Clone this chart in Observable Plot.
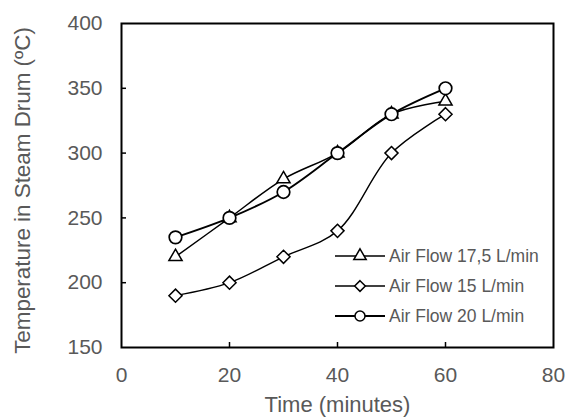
<!DOCTYPE html>
<html>
<head>
<meta charset="utf-8">
<script src="https://cdn.jsdelivr.net/npm/d3@7"></script>
<script src="https://cdn.jsdelivr.net/npm/@observablehq/plot@0.6"></script>
<style>
  html, body { margin: 0; padding: 0; background: #fff; }
  #chart { width: 566px; height: 418px; }
</style>
</head>
<body>
<div id="chart"></div>
<script>
// ---- data ----
const time = [10, 20, 30, 40, 50, 60];
const flow175 = [220, 250, 280, 300, 330, 340];
const flow15 = [190, 200, 220, 240, 300, 330];
const flow20 = [235, 250, 270, 300, 330, 350];
const seriesNames = ["Air Flow 17,5 L/min", "Air Flow 15 L/min", "Air Flow 20 L/min"];
const xTicks = [0, 20, 40, 60, 80];
const yTicks = [150, 200, 250, 300, 350, 400];
const xInnerTicks = [20, 40, 60];
const yInnerTicks = [200, 250, 300, 350];
const xTitle = ["Time (minutes)"];
const yTitle = ["Temperature in Steam Drum (ºC)"];

const toRows = (vals) => time.map((t, i) => ({t, v: vals[i]}));
const s175 = toRows(flow175);
const s15 = toRows(flow15);
const s20 = toRows(flow20);

const W = 566, H = 418;
const mL = 121, mR = 13, mT = 23, mB = 71;
const pw = W - mL - mR, ph = H - mT - mB;
const grey = "#595959";
const font = "Liberation Sans, Arial, sans-serif";

const legendItems = [
  {name: seriesNames[0], symbol: d3.symbolTriangle, r: 4.6, sw: 1.4},
  {name: seriesNames[1], symbol: d3.symbolDiamond2, r: 4.8, sw: 1.4},
  {name: seriesNames[2], symbol: d3.symbolCircle, r: 5, sw: 1.9}
];

function legendMark(index, scales, values, dims) {
  const g = d3.create("svg:g")
    .attr("transform", `translate(${dims.marginLeft + 214},${dims.marginTop + 233})`);
  legendItems.forEach((it, i) => {
    const row = g.append("g").attr("transform", `translate(0,${i * 30})`);
    row.append("line").attr("x1", 0).attr("x2", 50).attr("y1", 0).attr("y2", 0)
      .attr("stroke", "black").attr("stroke-width", it.sw);
    row.append("path")
      .attr("d", d3.symbol(it.symbol, Math.PI * it.r * it.r)())
      .attr("transform", "translate(25,0)")
      .attr("fill", "white").attr("stroke", "black").attr("stroke-width", 1.5);
    row.append("text").attr("x", 54).attr("y", 0).attr("dy", "0.35em")
      .attr("text-anchor", "start")
      .attr("fill", grey).attr("font-family", font).attr("font-size", 17.5)
      .text(it.name);
  });
  return g.node();
}

const plot = Plot.plot({
  width: W, height: H,
  marginLeft: mL, marginRight: mR, marginTop: mT, marginBottom: mB,
  style: {fontFamily: font, background: "white", color: grey},
  x: {domain: [0, 80], ticks: xTicks},
  y: {domain: [150, 400], ticks: yTicks},
  marks: [
    Plot.axisX(xTicks, {tickSize: 0, tickPadding: 20, fontSize: 21, fill: grey, label: null}),
    Plot.axisY(yTicks, {tickSize: 0, tickPadding: 19, fontSize: 21, fill: grey, label: null}),
    Plot.ruleX(xInnerTicks, {stroke: "black", strokeWidth: 1.5, insetTop: ph - 5}),
    Plot.ruleY(yInnerTicks, {stroke: "black", strokeWidth: 1.5, insetRight: pw - 5}),
    Plot.frame({stroke: "black", strokeWidth: 2}),
    Plot.line(s175, {x: "t", y: "v", curve: "catmull-rom", stroke: "black", strokeWidth: 1.5}),
    Plot.line(s15, {x: "t", y: "v", curve: "catmull-rom", stroke: "black", strokeWidth: 1.4}),
    Plot.line(s20, {x: "t", y: "v", curve: "catmull-rom", stroke: "black", strokeWidth: 1.9}),
    Plot.dot(s175, {x: "t", y: "v", symbol: "triangle", r: 4.9, fill: "white", stroke: "black", strokeWidth: 1.5}),
    Plot.dot(s15, {x: "t", y: "v", symbol: "diamond2", r: 5.9, fill: "white", stroke: "black", strokeWidth: 1.5}),
    Plot.dot(s20, {x: "t", y: "v", symbol: "circle", r: 6.3, fill: "white", stroke: "black", strokeWidth: 1.7}),
    Plot.text(xTitle, {text: d => d, frameAnchor: "bottom", dy: 64, lineAnchor: "bottom", textAnchor: "middle", fontSize: 22, fill: grey}),
    Plot.text(yTitle, {text: d => d, frameAnchor: "left", dx: -92, dy: 5, rotate: -90, lineAnchor: "bottom", textAnchor: "middle", fontSize: 22.4, fill: grey}),
    legendMark
  ]
});
document.getElementById("chart").appendChild(plot);
</script>
</body>
</html>
